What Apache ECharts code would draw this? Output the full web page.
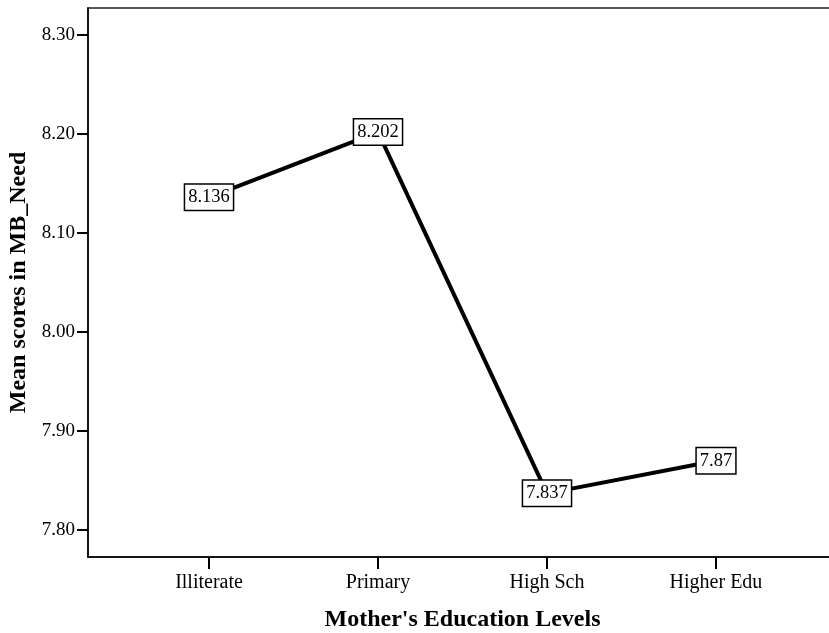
<!DOCTYPE html>
<html>
<head>
<meta charset="utf-8">
<script src="https://cdn.jsdelivr.net/npm/echarts@6/dist/echarts.min.js"></script>
<style>
  html, body { margin: 0; padding: 0; background: #fff; }
  #chart { width: 829px; height: 633px; }
</style>
</head>
<body>
<div id="chart"></div>
<script>
// Mean MB_Need score by mother's education level
const categories = ['Illiterate', 'Primary', 'High Sch', 'Higher Edu'];
const meanScores = [8.136, 8.202, 7.837, 7.87];
const yTicks = [7.8, 7.9, 8.0, 8.1, 8.2, 8.3];

const serif = '"Liberation Serif", "Times New Roman", serif';
const catIdx = categories.map((c, i) => i);

const chart = echarts.init(document.getElementById('chart'));
chart.setOption({
  backgroundColor: '#fff',
  animation: false,
  grid: {
    left: 88, top: 8, right: -8, bottom: 76,
    outerBoundsMode: 'none',
    containLabel: false,
    show: true, borderColor: '#222', borderWidth: 1.5
  },
  xAxis: {
    type: 'value',
    min: -0.716, max: 3.716,
    name: "Mother's Education Levels",
    nameLocation: 'middle',
    nameGap: 51,
    nameTextStyle: { fontFamily: serif, fontSize: 24, fontWeight: 'bold', color: '#000' },
    axisLine: { onZero: false, lineStyle: { color: '#000', width: 1.5 } },
    splitLine: { show: false },
    axisTick: { show: true, length: 12, lineStyle: { color: '#000', width: 2 },
                customValues: catIdx },
    axisLabel: {
      customValues: catIdx,
      formatter: v => categories[Math.round(v)],
      fontFamily: serif, fontSize: 20, color: '#000', margin: 16
    }
  },
  yAxis: {
    type: 'value',
    min: 7.7727, max: 8.3273,
    name: 'Mean scores in MB_Need',
    nameLocation: 'middle',
    nameGap: 54,
    nameTextStyle: { fontFamily: serif, fontSize: 24, fontWeight: 'bold', color: '#000' },
    axisLine: { show: true, onZero: false, lineStyle: { color: '#000', width: 1.5 } },
    splitLine: { show: false },
    axisTick: { show: true, length: 11, lineStyle: { color: '#000', width: 2 },
                customValues: yTicks },
    axisLabel: {
      customValues: yTicks,
      formatter: v => v.toFixed(2),
      fontFamily: serif, fontSize: 19, color: '#000', margin: 13
    }
  },
  series: [{
    type: 'line',
    data: meanScores.map((v, i) => [i, v]),
    symbol: 'circle',
    symbolSize: 1,
    showSymbol: true,
    itemStyle: { color: '#000' },
    lineStyle: { color: '#000', width: 4 },
    label: {
      show: true,
      position: 'inside',
      formatter: p => String(meanScores[p.dataIndex]),
      fontFamily: serif, fontSize: 18.5, color: '#000',
      backgroundColor: '#fff',
      borderColor: '#000', borderWidth: 1.5,
      padding: [4, 3, 2, 3]
    }
  }]
});
</script>
</body>
</html>
